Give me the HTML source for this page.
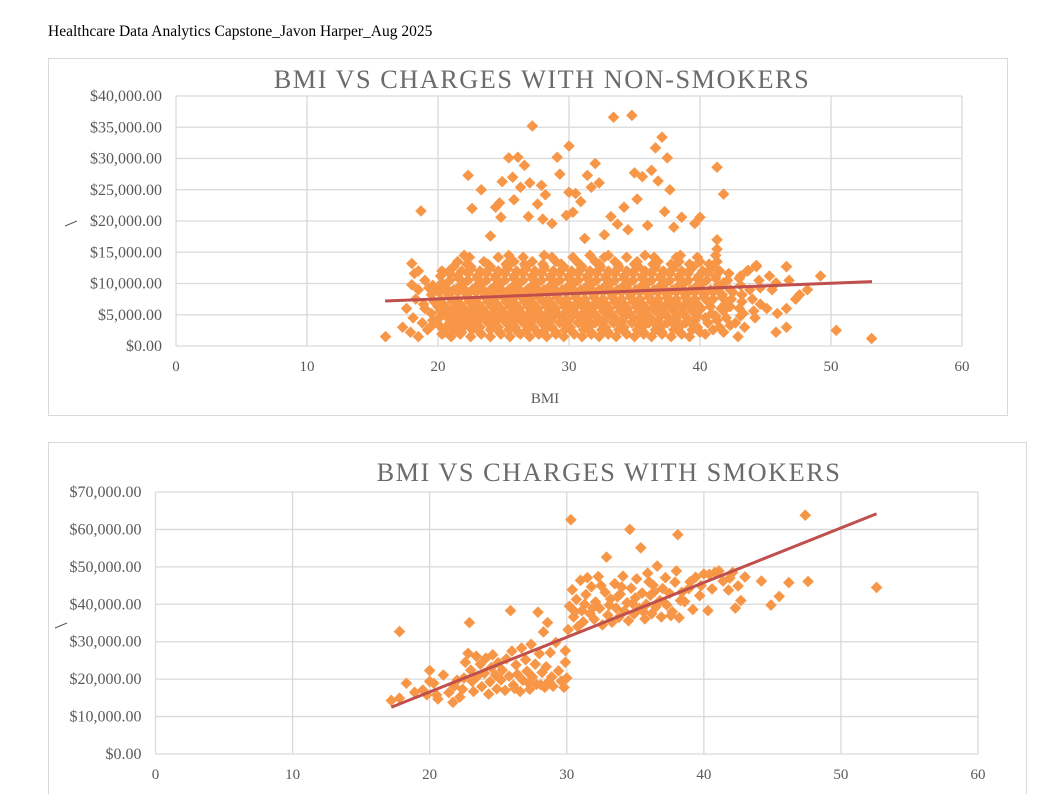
<!DOCTYPE html>
<html><head><meta charset="utf-8"><style>
body{margin:0;background:#fff;width:1060px;height:794px;overflow:hidden;font-family:"Liberation Serif",serif;}
svg{position:absolute;left:0;top:0}
</style></head><body>
<svg id="s" width="1060" height="794">
<text x="48" y="36" font-size="15.5" fill="#000" font-family="Liberation Serif, serif">Healthcare Data Analytics Capstone_Javon Harper_Aug 2025</text>
<rect x="48.5" y="58.5" width="959" height="357" fill="#fff" stroke="#d9d9d9"/>
<rect x="48.5" y="442.5" width="978" height="360" fill="#fff" stroke="#d9d9d9"/>
<g id="c1"></g>
<g id="c2"></g>
</svg>
<script>
// ---- Chart 1 data: non-smokers (BMI, charges in $1000s) ----
const nsBandRows = [
 [1.5,[16.0,18.5,21.0,22.5,24.0,25.5,27.0,28.3,29.6,31.0,32.3,33.6,35.0,36.3,37.8,39.2,42.9]],
 [1.9,[20.3,21.7,23.3,24.8,26.3,27.7,29.0,30.4,31.7,33.0,34.4,35.7,37.1,38.6,40.4]],
 [2.2,[17.9,20.5,21.8,23.2,24.7,26.1,27.6,29.0,30.3,31.7,33.0,34.3,35.7,37.1,38.5,40.0,41.8,45.8]],
 [2.6,[19.2,21.2,22.6,24.0,25.4,26.8,28.2,29.7,31.1,32.5,33.8,35.2,36.6,38.0,39.4,41.0]],
 [3.0,[17.3,19.4,20.6,21.9,23.2,24.6,25.9,27.3,28.7,30.1,31.5,32.8,34.2,35.6,37.0,38.4,39.8,41.5,43.4,46.6]],
 [3.3,[20.1,21.5,22.9,24.3,25.6,27.0,28.4,29.8,31.2,32.6,34.0,35.4,36.7,38.1,39.5,42.3]],
 [3.7,[18.8,20.9,22.3,23.8,25.2,26.5,27.9,29.3,30.7,32.0,33.4,34.8,36.1,37.5,38.9,40.6,42.7]],
 [4.1,[19.6,21.7,23.1,24.5,25.9,27.2,28.6,30.0,31.4,32.7,34.1,35.5,36.8,38.2,39.6,41.3]],
 [4.5,[18.1,20.1,21.4,22.8,24.2,25.5,26.9,28.2,29.5,30.9,32.2,33.5,34.9,36.2,37.6,39.0,40.4,42.0,44.2]],
 [4.8,[20.6,22.1,23.5,24.9,26.2,27.6,28.9,30.3,31.6,33.0,34.3,35.6,37.0,38.3,39.8,41.2,43.1]],
 [5.2,[19.5,21.0,22.4,23.7,25.1,26.4,27.8,29.1,30.5,31.9,33.2,34.6,35.9,37.3,38.7,40.9,43.3,45.9]],
 [5.6,[20.2,21.7,23.1,24.4,25.8,27.1,28.5,29.8,31.2,32.6,33.9,35.3,36.6,38.0,39.4,41.8,44.1]],
 [6.0,[17.6,19.0,20.7,22.0,23.4,24.8,26.2,27.6,29.0,30.4,31.8,33.1,34.5,35.9,37.3,38.7,40.1,41.6,43.0,45.1,46.6]],
 [6.3,[20.0,21.3,22.7,24.1,25.5,26.9,28.3,29.7,31.1,32.5,33.8,35.2,36.6,38.0,39.4,40.8,42.3]],
 [6.7,[18.9,20.4,21.7,23.1,24.5,25.9,27.3,28.7,30.0,31.4,32.8,34.2,35.6,36.9,38.3,39.8,41.9,44.6]],
 [7.1,[19.7,21.1,22.4,23.8,25.2,26.6,28.0,29.4,30.7,32.1,33.5,34.9,36.3,37.6,39.0,40.6,43.2]],
 [7.5,[18.3,20.2,21.5,22.9,24.3,25.7,27.0,28.4,29.8,31.2,32.6,34.0,35.4,36.8,38.2,39.6,41.0,42.4,44.0,47.3]],
 [7.8,[20.9,22.2,23.6,25.0,26.4,27.7,29.1,30.5,31.9,33.3,34.7,36.1,37.5,38.9,40.3,41.7]],
 [8.2,[19.5,20.8,22.2,23.6,25.0,26.3,27.7,29.1,30.5,31.9,33.3,34.7,36.1,37.5,38.9,40.3,41.7,43.2,47.6]],
 [8.6,[20.1,21.5,22.9,24.3,25.7,27.0,28.4,29.8,31.2,32.6,34.0,35.4,36.8,38.2,39.6,41.0,42.5]],
 [9.0,[18.5,20.0,21.2,22.6,24.0,25.4,26.8,28.1,29.5,30.9,32.3,33.7,35.1,36.5,37.9,39.3,40.8,42.3,43.8,45.5,48.2]],
 [9.3,[19.3,20.6,21.9,23.3,24.7,26.1,27.5,28.8,30.2,31.6,33.0,34.4,35.8,37.2,38.6,40.0,41.5,44.6]],
 [9.7,[19.6,21.7,23.0,24.4,25.8,27.2,28.6,30.0,31.4,32.8,34.2,35.6,37.0,38.4,39.8,41.4,43.1]],
 [10.1,[20.3,22.0,23.4,24.8,26.2,27.6,29.0,30.4,31.8,33.2,34.6,36.0,37.4,38.8,40.2,41.8,45.8]],
 [10.5,[19.0,20.9,22.3,23.7,25.1,26.5,27.9,29.3,30.7,32.1,33.5,34.9,36.3,37.7,39.1,40.5,42.1,44.5,46.8]],
 [10.8,[21.6,23.0,24.4,25.8,27.2,28.6,30.0,31.4,32.8,34.2,35.6,37.0,38.4,39.8,41.2,43.0]],
 [11.2,[20.2,21.5,23.0,24.4,25.8,27.2,28.6,30.0,31.4,32.8,34.2,35.6,37.0,38.4,39.9,41.2,43.1,45.3,49.2]],
 [11.6,[20.9,22.3,23.7,25.1,26.5,27.9,29.3,30.7,32.1,33.5,34.9,36.3,37.7,39.1,40.6,42.2]],
 [12.0,[18.5,20.3,21.8,23.2,24.6,26.0,27.4,28.8,30.2,31.6,33.0,34.4,35.8,37.2,38.6,40.2,41.5,43.6]],
 [12.3,[21.0,22.5,23.9,25.3,26.7,28.1,29.5,30.9,32.3,33.7,35.1,36.5,37.9,39.3,40.8]],
 [12.7,[21.2,22.5,24.0,25.3,26.7,28.1,29.6,31.0,32.4,33.8,35.3,36.6,38.0,39.5,41.0,44.3,46.6]],
 [13.1,[22.2,23.8,25.2,26.6,28.0,29.4,30.8,32.3,33.7,35.0,36.4,37.8,39.2,40.7]],
 [13.5,[21.5,23.5,25.8,27.2,29.0,30.6,32.0,33.5,35.2,36.8,38.4,40.0,41.3]],
 [14.2,[22.4,24.6,26.5,28.7,30.3,32.7,34.4,36.5,38.2,39.8]],
 [14.5,[22.0,25.4,28.1,31.6,33.0,35.8,38.5,41.2]]
];
const nsOutliers = [
 [18.7,21.6],[22.3,27.3],[22.6,22.0],[23.3,25.0],[24.0,17.6],[24.4,22.2],[24.7,22.9],[24.9,26.3],[25.4,30.1],[25.7,27.0],
 [25.8,23.4],[26.1,30.2],[26.3,25.4],[26.6,28.9],[27.0,26.1],[27.2,35.2],[27.6,22.7],[27.9,25.7],[28.0,20.3],[28.2,24.2],
 [28.7,19.6],[29.1,30.2],[29.3,27.5],[29.8,20.9],[30.0,32.0],[30.0,24.6],[30.3,21.4],[30.5,24.4],[30.9,23.1],[31.2,17.2],
 [31.4,27.3],[31.7,25.4],[32.0,29.2],[32.3,26.1],[32.7,17.8],[33.2,20.7],[33.4,36.6],[33.7,19.5],[34.2,22.2],[34.5,18.6],
 [34.8,36.9],[35.0,27.7],[35.6,27.1],[36.0,19.3],[36.3,28.1],[36.6,31.7],[36.8,26.4],[37.1,33.4],[37.3,21.5],[37.5,30.1],
 [37.7,25.0],[38.0,19.0],[38.6,20.6],[39.6,19.6],[40.0,20.6],[41.3,28.6],[41.8,24.3],[41.3,17.0],[41.3,15.5],[35.2,23.5],
 [26.9,20.7],[24.8,20.6],[50.4,2.5],[53.1,1.2],[46.6,12.7],[44.3,12.9],[43.7,12.1],[18.0,13.2],[18.2,11.6],[18.0,9.8]
];
const nsTrendX = [15.96, 53.13];
const nsTrendY = [7.2, 10.3];
const c1YTicks = [0,5,10,15,20,25,30,35,40];
const c1YLabels = ["$0.00","$5,000.00","$10,000.00","$15,000.00","$20,000.00","$25,000.00","$30,000.00","$35,000.00","$40,000.00"];
const xTicks = [0,10,20,30,40,50,60];

// ---- Chart 2 data: smokers ----
const smPoints = [
 [17.2,14.3],[17.8,32.7],[17.8,14.9],[18.3,18.9],[18.9,16.5],[19.5,17.1],[19.8,15.8],[20.0,22.3],[20.0,19.4],[20.3,18.9],
 [20.5,15.8],[20.6,14.7],[21.0,21.1],[21.4,16.4],[21.7,13.8],[21.8,18.1],[22.0,19.7],[22.2,15.2],[22.4,17.3],[22.5,20.3],
 [22.6,24.5],[22.8,26.9],[22.9,35.1],[23.0,22.4],[23.1,19.4],[23.2,16.7],[23.4,26.1],[23.5,20.8],[23.7,24.0],[23.8,18.0],
 [24.0,21.6],[24.1,25.6],[24.3,16.0],[24.4,19.3],[24.5,23.1],[24.6,26.5],[24.8,21.1],[24.9,17.4],[25.0,24.4],[25.2,19.8],
 [25.3,22.4],[25.5,17.0],[25.6,25.4],[25.8,20.8],[25.9,38.3],[26.0,27.5],[26.1,18.4],[26.3,23.8],[26.4,21.3],[26.6,16.7],
 [26.7,28.3],[26.8,19.7],[27.0,25.2],[27.1,22.1],[27.3,17.3],[27.4,29.3],[27.5,20.6],[27.7,24.0],[27.8,18.6],[27.9,37.9],
 [28.0,26.8],[28.2,21.8],[28.3,32.6],[28.4,17.8],[28.5,23.3],[28.6,35.1],[28.7,19.4],[28.8,27.1],[28.9,20.6],[29.0,18.1],
 [29.2,29.8],[29.4,22.2],[29.6,19.5],[29.8,17.8],[29.9,27.6],[29.9,24.5],[30.0,20.3],[28.1,18.5],[27.2,19.0],[26.2,17.5],
 [30.1,33.2],[30.2,39.5],[30.3,62.6],[30.4,43.9],[30.5,36.6],[30.7,41.3],[30.8,34.0],[31.0,46.4],[31.1,38.3],[31.2,35.3],
 [31.4,42.6],[31.5,47.1],[31.7,37.5],[31.8,44.7],[32.0,36.0],[32.1,40.6],[32.3,47.4],[32.4,38.9],[32.6,34.5],[32.8,43.2],
 [32.9,52.6],[33.0,37.1],[33.2,41.4],[33.3,35.2],[33.5,45.5],[33.6,39.0],[33.8,36.5],[33.9,42.7],[34.1,47.5],[34.2,38.2],
 [34.4,40.4],[34.5,35.6],[34.6,60.0],[34.7,44.3],[34.9,37.4],[35.0,41.7],[35.1,46.8],[35.3,38.9],[35.4,55.1],[35.5,43.0],
 [35.7,36.1],[35.8,40.0],[35.9,48.3],[36.1,42.4],[36.2,37.5],[36.3,45.1],[36.5,39.3],[36.6,50.2],[36.8,41.0],[36.9,36.6],
 [37.0,44.2],[37.2,47.1],[37.3,39.8],[37.5,42.9],[37.7,38.0],[37.9,45.9],[38.0,48.9],[38.1,58.6],[38.2,36.4],[38.4,43.2],
 [38.6,40.7],[38.9,44.2],[39.2,38.6],[39.4,47.2],[39.7,42.3],[40.0,48.1],[40.3,38.3],[40.6,44.1],[40.8,48.5],[41.1,48.9],
 [41.4,46.2],[41.8,43.8],[42.1,48.5],[42.3,39.0],[42.5,44.9],[42.7,41.0],[43.0,47.3],[44.2,46.2],[44.9,39.8],[45.5,42.1],
 [46.2,45.8],[47.4,63.8],[47.6,46.1],[52.6,44.5],[41.9,47.0],[40.4,48.0],[31.3,40.0],[32.5,45.0],[33.1,39.8],[34.0,44.6],
 [34.8,40.2],[35.6,38.0],[36.4,43.4],[37.1,40.5],[38.3,41.0],[39.0,46.0],[30.6,38.0],[31.9,39.0],[33.7,42.0],[36.0,46.0],
 [37.6,37.0],[39.8,45.0]
];
const smTrendX = [17.2, 52.6];
const smTrendY = [12.5, 64.2];
const c2YTicks = [0,10,20,30,40,50,60,70];
const c2YLabels = ["$0.00","$10,000.00","$20,000.00","$30,000.00","$40,000.00","$50,000.00","$60,000.00","$70,000.00"];

const NS="http://www.w3.org/2000/svg";
function mk(parent,tag,attrs){const e=document.createElementNS(NS,tag);for(const k in attrs)e.setAttribute(k,attrs[k]);parent.appendChild(e);return e;}

function drawChart(g,cfg){
  const xs=v=>cfg.x0+(v-0)/60*(cfg.x1-cfg.x0);
  const ys=v=>cfg.y0-(v/cfg.ymax)*(cfg.y0-cfg.y1);
  const t=mk(g,'text',{x:cfg.tx,y:cfg.ty,'font-size':26.3,fill:'#6b6b6b','letter-spacing':'1.5','text-anchor':'middle','font-family':'Liberation Serif, serif'});
  t.textContent=cfg.title;
  
  
  cfg.yTicks.forEach((v,i)=>{
    const l=mk(g,'line',{x1:cfg.x0,x2:cfg.x1,y1:ys(v),y2:ys(v),stroke:'#d9d9d9','stroke-width':1.3});
    
    
    const tx=mk(g,'text',{x:cfg.x0-14,y:ys(v)+5,'font-size':16,fill:'#595959','text-anchor':'end','font-family':'Liberation Serif, serif'});
    tx.textContent=cfg.yLabels[i];
    
    
  });
  xTicks.forEach(v=>{
    const l=mk(g,'line',{x1:xs(v),x2:xs(v),y1:cfg.y1,y2:cfg.y0,stroke:'#d9d9d9','stroke-width':1.3});
    
    
    const tx=mk(g,'text',{x:xs(v),y:cfg.y0+25,'font-size':15,fill:'#595959','text-anchor':'middle','font-family':'Liberation Serif, serif'});
    tx.textContent=String(v);
    
    
  });
  cfg.points.forEach(p=>{
    const cx=xs(p[0]),cy=ys(p[1]),r=5.8;
    const d=mk(g,'polygon',{points:`${cx},${cy-r} ${cx+r},${cy} ${cx},${cy+r} ${cx-r},${cy}`,fill:'#f79646'});
    
    
  });
  const tl=mk(g,'line',{x1:xs(cfg.trX[0]),y1:ys(cfg.trY[0]),x2:xs(cfg.trX[1]),y2:ys(cfg.trY[1]),stroke:'#c0504d','stroke-width':3});
  
  
  const sl=mk(g,'line',{x1:cfg.slx,y1:cfg.sly,x2:cfg.slx+12,y2:cfg.sly-5,stroke:'#595959','stroke-width':1});
  
  
}

const nsPoints=[];
nsBandRows.forEach(r=>r[1].forEach(b=>nsPoints.push([b,r[0]])));
nsOutliers.forEach(p=>nsPoints.push(p));

drawChart(document.getElementById('c1'),{x0:176,x1:962,y0:346,y1:96,ymax:40,tx:542,ty:88,title:'BMI VS CHARGES WITH NON-SMOKERS',
  yTicks:c1YTicks,yLabels:c1YLabels,points:nsPoints,trX:nsTrendX,trY:nsTrendY,slx:65,sly:226});
drawChart(document.getElementById('c2'),{x0:155.5,x1:978,y0:754,y1:492,ymax:70,tx:609,ty:481,title:'BMI VS CHARGES WITH SMOKERS',
  yTicks:c2YTicks,yLabels:c2YLabels,points:smPoints,trX:smTrendX,trY:smTrendY,slx:55,sly:628});

const bt=mk(document.getElementById('c1'),'text',{x:545,y:403,'font-size':15,fill:'#595959','text-anchor':'middle','font-family':'Liberation Serif, serif'});
bt.textContent='BMI';


</script>
</body></html>
